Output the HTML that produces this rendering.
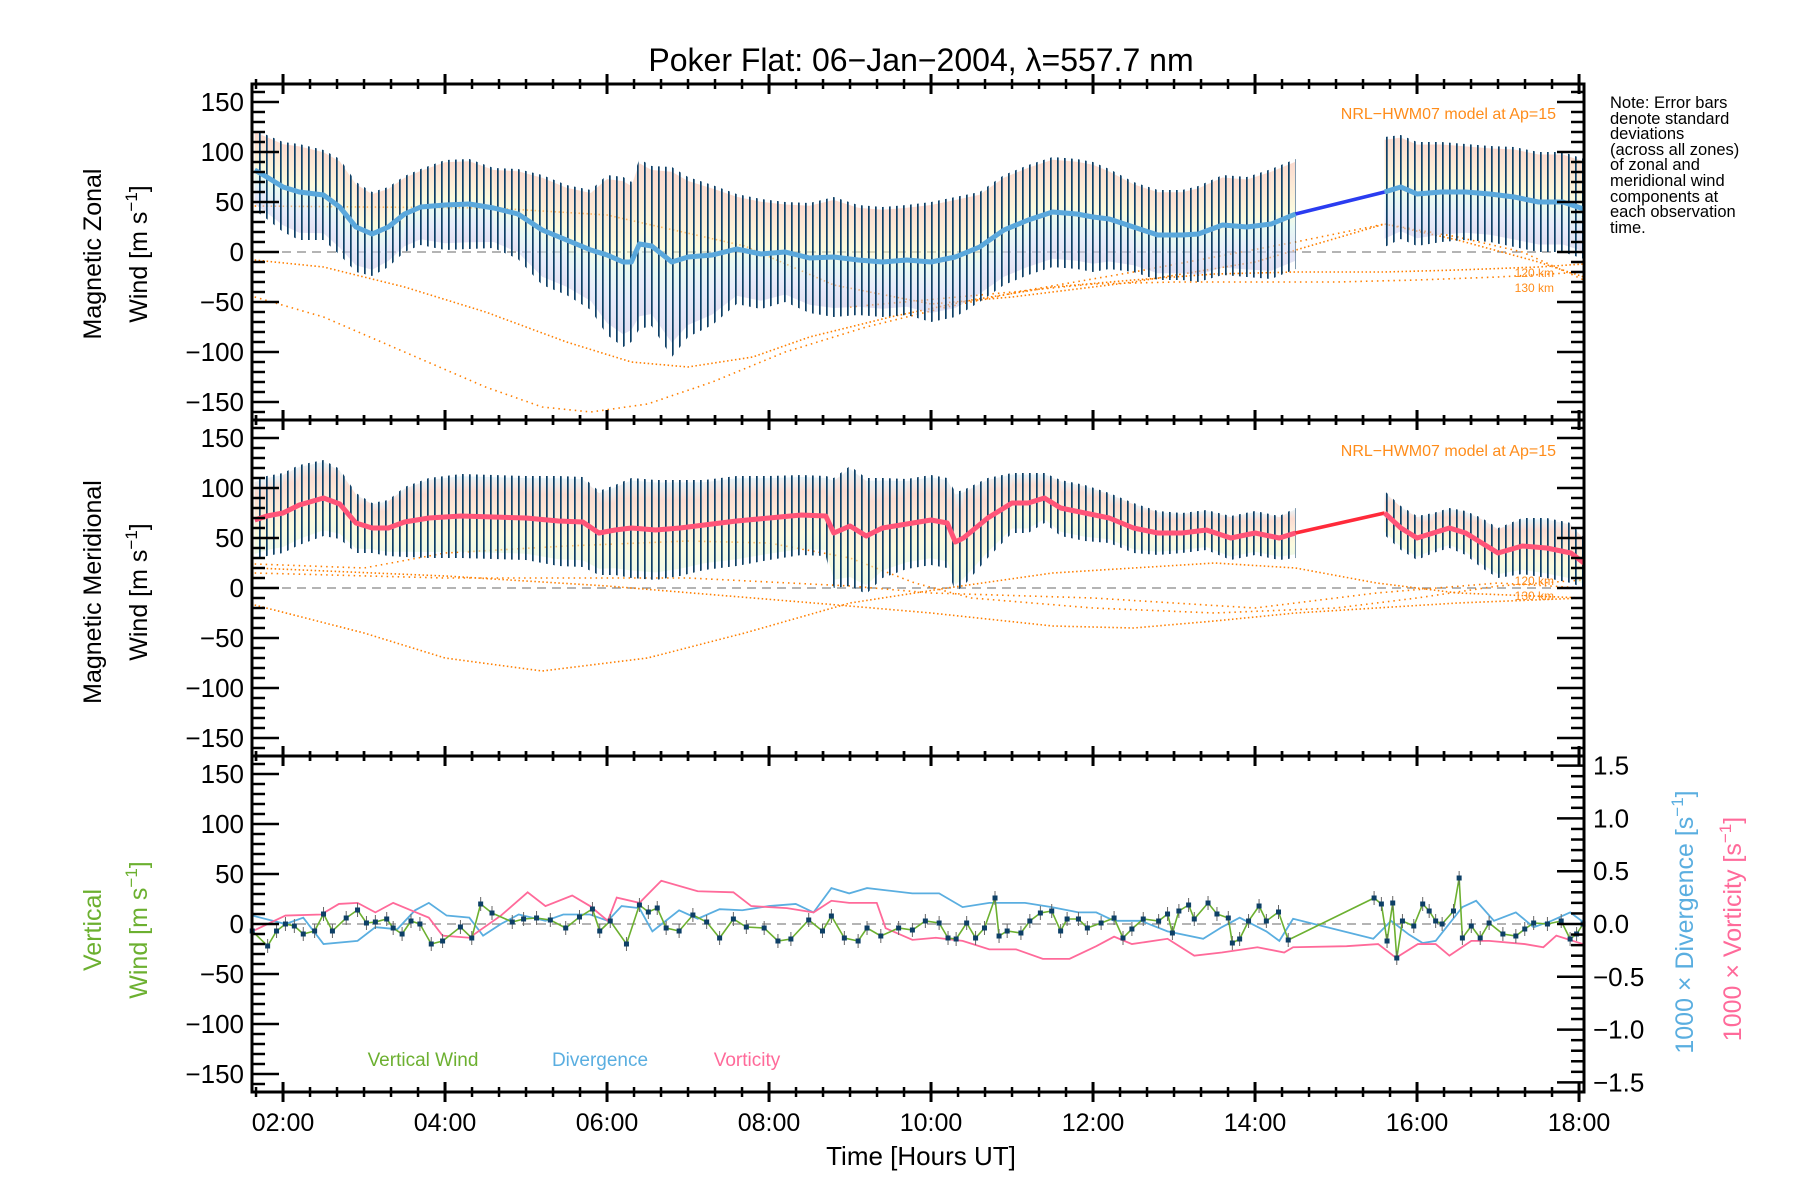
<!DOCTYPE html>
<html><head><meta charset="utf-8"><style>
html,body{margin:0;padding:0;background:#fff}
svg{display:block;font-family:"Liberation Sans",sans-serif}
</style></head><body>
<svg id="chart" width="1800" height="1200" viewBox="0 0 1800 1200" xmlns="http://www.w3.org/2000/svg">
<defs>
<pattern id="bars" width="7" height="10" patternUnits="userSpaceOnUse"><rect x="0" y="0" width="1.7" height="10" fill="#0d3f66"/></pattern>
<linearGradient id="distZ" x1="0" y1="0" x2="0" y2="1">
<stop offset="0" stop-color="#f8bca8"/><stop offset="0.28" stop-color="#f9e0b8"/><stop offset="0.45" stop-color="#f7f6c4"/><stop offset="0.6" stop-color="#d4f3ea"/><stop offset="0.78" stop-color="#d2dbf6"/><stop offset="1" stop-color="#c8c4e6"/>
</linearGradient>
<linearGradient id="distM" x1="0" y1="0" x2="0" y2="1">
<stop offset="0" stop-color="#d4ecf6"/><stop offset="0.2" stop-color="#f8c0ac"/><stop offset="0.5" stop-color="#f9dfba"/><stop offset="0.75" stop-color="#f7f6c4"/><stop offset="1" stop-color="#e0f4d6"/>
</linearGradient>
</defs>
<text x="921" y="71" font-size="32" text-anchor="middle">Poker Flat: 06−Jan−2004, λ=557.7 nm</text>
<g id="g1"></g>
<g id="g2"></g>
<g id="g3"></g>
<g id="axes"></g>
<g font-size="16.5" fill="#000">
<text x="1610" y="108">Note: Error bars</text><text x="1610" y="124">denote standard</text><text x="1610" y="139">deviations</text><text x="1610" y="155">(across all zones)</text><text x="1610" y="170">of zonal and</text><text x="1610" y="186">meridional wind</text><text x="1610" y="202">components at</text><text x="1610" y="217">each observation</text><text x="1610" y="233">time.</text>
</g>
<text transform="translate(101,254) rotate(-90)" font-size="25" text-anchor="middle">Magnetic  Zonal</text>
<text transform="translate(147,254) rotate(-90)" font-size="25" text-anchor="middle">Wind [m s<tspan dy="-10" font-size="17">−1</tspan><tspan dy="10">]</tspan></text>
<text transform="translate(101,592) rotate(-90)" font-size="25" text-anchor="middle">Magnetic  Meridional</text>
<text transform="translate(147,592) rotate(-90)" font-size="25" text-anchor="middle">Wind [m s<tspan dy="-10" font-size="17">−1</tspan><tspan dy="10">]</tspan></text>
<text transform="translate(101,930) rotate(-90)" font-size="25" text-anchor="middle" fill="#6cb030">Vertical</text>
<text transform="translate(147,930) rotate(-90)" font-size="25" text-anchor="middle" fill="#6cb030">Wind [m s<tspan dy="-10" font-size="17">−1</tspan><tspan dy="10">]</tspan></text>
<text transform="translate(1693,922) rotate(-90)" font-size="25" text-anchor="middle" fill="#5aaee0">1000 × Divergence [s<tspan dy="-10" font-size="17">−1</tspan><tspan dy="10">]</tspan></text>
<text transform="translate(1741,929) rotate(-90)" font-size="25" text-anchor="middle" fill="#ff6a9a">1000 × Vorticity [s<tspan dy="-10" font-size="17">−1</tspan><tspan dy="10">]</tspan></text>
<text x="921" y="1165" font-size="26" text-anchor="middle">Time [Hours UT]</text>
<text x="423" y="1066" font-size="19" text-anchor="middle" fill="#6cb030">Vertical Wind</text>
<text x="600" y="1066" font-size="19" text-anchor="middle" fill="#5aaee0">Divergence</text>
<text x="747" y="1066" font-size="19" text-anchor="middle" fill="#ff6a9a">Vorticity</text>
<text x="1556" y="119" font-size="16" text-anchor="end" fill="#ff8c1a">NRL−HWM07 model at Ap=15</text>
<text x="1556" y="456" font-size="16" text-anchor="end" fill="#ff8c1a">NRL−HWM07 model at Ap=15</text>
<text x="1554" y="277" font-size="12" text-anchor="end" fill="#ff8c1a">120 km</text>
<text x="1554" y="292" font-size="12" text-anchor="end" fill="#ff8c1a">130 km</text>
<text x="1554" y="585" font-size="12" text-anchor="end" fill="#ff8c1a">120 km</text>
<text x="1554" y="600" font-size="12" text-anchor="end" fill="#ff8c1a">130 km</text>
</svg>
<script>
// ---- data ----
const zonT=[1.65,1.8,2.0,2.2,2.5,2.7,2.9,3.1,3.3,3.5,3.7,4.0,4.3,4.6,4.9,5.2,5.5,5.8,6.0,6.2,6.3,6.4,6.55,6.8,7.0,7.3,7.6,7.9,8.2,8.5,8.8,9.1,9.4,9.7,10.0,10.3,10.6,10.9,11.2,11.5,11.8,12.0,12.2,12.5,12.8,13.1,13.3,13.6,13.9,14.2,14.5,15.6,15.8,16.0,16.3,16.6,16.9,17.2,17.5,17.8,18.06];
const zonMean=[82,75,65,60,57,45,25,18,25,38,45,47,48,44,38,22,12,2,-3,-10,-10,8,6,-10,-5,-3,3,-2,0,-6,-5,-8,-10,-8,-10,-5,5,22,32,40,38,35,33,25,17,17,18,27,25,28,38,60,65,58,60,60,58,55,50,50,43];
const zonSd=[40,42,45,48,45,48,45,42,40,38,38,45,45,40,45,55,55,60,80,85,80,85,80,95,80,70,55,55,50,55,60,55,55,55,60,60,55,55,55,55,55,55,50,45,45,45,48,50,50,55,55,55,52,52,50,48,48,50,50,50,50];
const merT=[1.65,1.8,2.0,2.2,2.5,2.7,2.9,3.1,3.3,3.5,3.8,4.2,4.6,5.0,5.4,5.7,5.9,6.1,6.3,6.6,6.9,7.2,7.6,8.0,8.4,8.7,8.8,9.0,9.2,9.4,9.7,10.0,10.2,10.3,10.4,10.7,11.0,11.2,11.4,11.6,11.9,12.2,12.5,12.8,13.1,13.4,13.7,14.0,14.3,14.5,15.6,15.8,16.0,16.2,16.4,16.6,16.8,17.0,17.3,17.6,17.9,18.06];
const merMean=[68,72,75,83,90,84,65,60,60,66,70,72,71,70,67,66,55,58,60,58,60,63,67,70,73,72,55,62,52,60,64,68,65,46,50,70,85,85,90,80,75,70,60,55,55,58,50,55,50,55,75,60,50,55,60,55,45,35,42,40,35,25];
const merSd=[40,40,40,40,38,35,30,25,28,35,40,42,42,42,45,45,42,45,50,50,48,45,45,42,40,40,55,60,58,50,45,45,45,50,48,40,30,30,25,28,28,25,25,22,20,20,22,22,22,25,22,22,22,20,20,22,25,25,28,30,30,25];
// model curves (HWM07)
const zm1T=[1.65,2.5,3.5,4.5,5.5,6.3,7.0,7.8,8.5,9.5,10.5,11.5,12.5,13.5,14.5,15.6,16.5,17.5,18.06];
const zm1V=[-8,-15,-35,-60,-90,-110,-115,-105,-85,-65,-48,-35,-28,-22,-20,-20,-18,-15,-12];
const zm2T=[1.65,2.5,3.5,4.5,5.2,5.8,6.5,7.3,8.2,9.2,10.2,11.2,12.5,13.5,14.5,15.6,16.5,17.3,18.06];
const zm2V=[-45,-65,-100,-135,-155,-160,-152,-130,-100,-75,-55,-38,-20,-5,10,28,15,0,-28];
const zm3T=[1.65,3.0,4.6,6.0,7.7,8.8,10.0,11.0,12.5,14.0,15.6,16.5,17.5,18.06];
const zm3V=[46,45,44,37,6,-33,-52,-45,-30,-10,28,12,-10,-25];
const zm4T=[9.0,11.0,12.0,13.0,14.0,15.0,16.0,17.0,18.06];
const zm4V=[-55,-40,-32,-30,-30,-30,-28,-25,-20];
const mm1T=[1.65,3.0,4.0,5.2,6.5,7.7,9.0,10.2,11.5,12.5,13.5,14.5,15.5,16.5,18.06];
const mm1V=[-17,-45,-70,-83,-70,-45,-15,0,15,20,25,20,5,-5,-10];
const mm2T=[1.65,3.0,4.0,5.5,7.0,8.0,9.0,9.8,10.5,12.0,13.5,15.0,16.0,17.0,18.06];
const mm2V=[24,20,35,42,47,45,30,5,-10,-20,-25,-20,-10,2,8];
const mm3T=[1.65,4.0,6.0,8.7,10.0,11.5,12.5,13.5,14.5,15.5,16.5,18.06];
const mm3V=[20,12,2,-16,-25,-38,-40,-33,-25,-20,-15,-10];
const mm4T=[1.65,4.0,7.0,9.0,10.0,12.0,14.0,15.5,17.0,18.06];
const mm4V=[15,10,10,2,-5,-10,-20,-5,5,0];
// panel 3
const vwT=[1.62,1.81,1.92,2.03,2.14,2.25,2.39,2.50,2.61,2.78,2.92,3.03,3.14,3.28,3.36,3.47,3.58,3.69,3.83,3.97,4.19,4.33,4.44,4.58,4.83,4.97,5.13,5.30,5.49,5.66,5.82,5.91,6.04,6.24,6.40,6.51,6.62,6.73,6.89,7.06,7.23,7.39,7.56,7.72,7.94,8.11,8.27,8.49,8.66,8.77,8.93,9.10,9.21,9.38,9.60,9.77,9.93,10.10,10.21,10.31,10.44,10.55,10.66,10.79,10.84,10.94,11.11,11.22,11.35,11.49,11.60,11.68,11.82,11.93,12.10,12.26,12.37,12.48,12.62,12.81,12.92,12.98,13.06,13.18,13.25,13.42,13.53,13.67,13.72,13.81,13.92,14.05,14.14,14.29,14.41,15.47,15.56,15.63,15.70,15.75,15.82,15.96,16.07,16.15,16.23,16.31,16.45,16.52,16.56,16.67,16.78,16.89,17.06,17.22,17.33,17.44,17.61,17.78,17.89,17.97,18.05];
const vwV=[-7,-22,-7,0,-2,-10,-7,10,-7,6,14,1,2,5,-4,-10,3,0,-20,-17,-3,-14,20,11,2,5,6,4,-4,7,15,-7,3,-20,19,12,16,-4,-7,9,2,-14,5,-3,-4,-17,-15,4,-7,8,-14,-17,-4,-12,-4,-6,3,1,-14,-15,1,-14,-4,26,-12,-7,-9,3,11,13,-7,5,5,-4,1,6,-14,-5,5,3,10,-9,13,19,5,21,10,6,-19,-15,3,18,3,12,-16,26,20,-17,21,-34,3,-2,20,13,3,0,13,46,-14,-2,-14,1,-10,-12,-5,1,0,3,-15,-10,0];
const divT=[1.62,2.03,2.25,2.50,2.92,3.14,3.41,3.63,3.80,4.02,4.30,4.47,4.69,4.91,5.24,5.46,5.79,6.01,6.18,6.40,6.56,6.89,7.12,7.39,7.67,8.00,8.33,8.55,8.77,8.99,9.21,9.44,9.77,10.10,10.39,10.72,11.16,11.49,11.82,12.04,12.26,12.59,12.92,13.36,13.59,13.81,14.14,14.30,14.47,15.46,15.68,15.90,16.07,16.23,16.56,16.73,16.95,17.22,17.44,17.66,17.89,18.05];
const divV=[0.08,0,0.06,-0.19,-0.16,-0.03,-0.05,0.13,0.20,0.08,0.06,-0.11,0,0.09,0.03,0.09,0.09,0.03,0.17,0.15,-0.07,0.13,0.05,0.14,0.13,0.17,0.19,0.11,0.34,0.29,0.34,0.32,0.29,0.29,0.16,0.20,0.20,0.16,0.11,0.11,0.03,0.03,-0.07,-0.14,-0.03,0.06,-0.07,-0.16,0.05,-0.14,0.03,-0.10,-0.18,-0.16,0.16,0.22,0.03,0.11,-0.03,0.03,0.11,0.02];
const vorT=[1.62,2.03,2.47,2.69,2.92,3.14,3.36,3.58,3.80,3.97,4.30,4.69,5.02,5.24,5.57,5.79,6.01,6.12,6.40,6.67,7.12,7.56,7.78,8.22,8.55,8.77,8.99,9.33,9.44,9.77,10.06,10.39,10.72,11.05,11.38,11.71,12.04,12.26,12.48,12.92,13.25,13.59,14.03,14.36,14.47,15.13,15.52,15.74,16.01,16.23,16.40,16.67,16.89,17.33,17.56,17.72,18.05];
const vorV=[-0.07,0.08,0.09,0.19,0.20,0.11,0.20,0.13,0.06,-0.11,-0.13,0.08,0.30,0.17,0.27,0.17,0.03,0.25,0.20,0.41,0.31,0.30,0.17,0.15,0.11,0.22,0.20,0.20,-0.04,-0.15,-0.13,-0.16,-0.24,-0.24,-0.33,-0.33,-0.21,-0.12,-0.19,-0.14,-0.30,-0.27,-0.22,-0.27,-0.22,-0.21,-0.19,-0.32,-0.19,-0.19,-0.30,-0.16,-0.16,-0.19,-0.22,-0.11,-0.19];
const yTicks=[-150,-100,-50,0,50,100,150];
const rTicks=[-1.5,-1.0,-0.5,0.0,0.5,1.0,1.5];
const xTickHours=[2,4,6,8,10,12,14,16,18];

// ---- scales ----
const L=252,R=1584,T0=1.617,PXH=81;
const tops=[84,420,756],H=336;
const X=t=>L+(t-T0)*PXH;
const Y=(p,v)=>tops[p]+H/2-v*(H/336);
const YR=v=>tops[2]+H/2-v*105.6;
const NS="http://www.w3.org/2000/svg";
function mk(parent,tag,attrs){const e=document.createElementNS(NS,tag);for(const k in attrs)e.setAttribute(k,attrs[k]);parent.appendChild(e);return e;}
function segs(T){const out=[];let cur=[0];for(let i=1;i<T.length;i++){if(T[i]-T[i-1]>0.6){out.push(cur);cur=[i];}else cur.push(i);}out.push(cur);return out;}

function windPanel(p,g,T,M,S,grad,lineCol,gapCol,models){
  const z=mk(g,'line',{x1:L,x2:R,y1:Y(p,0),y2:Y(p,0),stroke:'#888',"stroke-width":1.3,"stroke-dasharray":"9 6"});
  
  
  models.forEach((m,mi)=>{
    const pts=m[0].map((t,i)=>X(t)+','+Y(p,m[1][i])).join(' ');
    const pl=mk(g,'polyline',{points:pts,fill:'none',stroke:'#ff7f00',"stroke-width":1.6,"stroke-dasharray":mi%2?"1.5 4":"1.5 2.5"});
    
    
  });
  segs(T).forEach(idx=>{
    for(let k=0;k<idx.length-1;k++){
      const i=idx[k],j=idx[k+1];
      const pts=[X(T[i])+','+Y(p,M[i]+S[i]*0.95),X(T[j])+','+Y(p,M[j]+S[j]*0.95),X(T[j])+','+Y(p,M[j]-S[j]*0.85),X(T[i])+','+Y(p,M[i]-S[i]*0.85)].join(' ');
      const b=mk(g,'polygon',{points:pts,fill:'url(#'+grad+')',opacity:0.55});
      
      
    }
    const up=idx.map(i=>X(T[i])+','+Y(p,M[i]+S[i]));
    const dn=idx.slice().reverse().map(i=>X(T[i])+','+Y(p,M[i]-S[i]));
    const e=mk(g,'polygon',{points:up.concat(dn).join(' '),fill:'url(#bars)'});
    
    
  });
  const sg=segs(T);
  const gi=sg[0][sg[0].length-1],gj=sg[1][0];
  const gl=mk(g,'line',{x1:X(T[gi]),y1:Y(p,M[gi]),x2:X(T[gj]),y2:Y(p,M[gj]),stroke:gapCol,"stroke-width":3.5});
  
  
  sg.forEach(idx=>{
    const ml=mk(g,'polyline',{points:idx.map(i=>X(T[i])+','+Y(p,M[i])).join(' '),fill:'none',stroke:lineCol,"stroke-width":5,"stroke-linejoin":"round"});
    
    
  });
}
windPanel(0,document.getElementById('g1'),zonT,zonMean,zonSd,'distZ','#5aa8dc','#2a3cf0',[[zm1T,zm1V],[zm2T,zm2V],[zm3T,zm3V],[zm4T,zm4V]]);
windPanel(1,document.getElementById('g2'),merT,merMean,merSd,'distM','#ff5478','#ff2a3a',[[mm1T,mm1V],[mm2T,mm2V],[mm3T,mm3V],[mm4T,mm4V]]);

const g3=document.getElementById('g3');
const z3=mk(g3,'line',{x1:L,x2:R,y1:Y(2,0),y2:Y(2,0),stroke:'#888',"stroke-width":1.3,"stroke-dasharray":"9 6"});


const dl=mk(g3,'polyline',{points:divT.map((t,i)=>X(t)+','+YR(divV[i])).join(' '),fill:'none',stroke:'#5aaee0',"stroke-width":1.8});


const vl=mk(g3,'polyline',{points:vorT.map((t,i)=>X(t)+','+YR(vorV[i])).join(' '),fill:'none',stroke:'#ff6a9a',"stroke-width":1.8});


const wl=mk(g3,'polyline',{points:vwT.map((t,i)=>X(t)+','+Y(2,vwV[i])).join(' '),fill:'none',stroke:'#6cb030',"stroke-width":1.6});


vwT.forEach((t,i)=>{
  const eb=mk(g3,'line',{x1:X(t),x2:X(t),y1:Y(2,vwV[i])-7,y2:Y(2,vwV[i])+7,stroke:'#666',"stroke-width":1});
  
  
  const pt=mk(g3,'rect',{x:X(t)-2.5,y:Y(2,vwV[i])-2.5,width:5,height:5,fill:'#0d3f66'});
  
  
});

const ax=document.getElementById('axes');
tops.forEach((tp,p)=>{
  const fr=mk(ax,'rect',{x:L,y:tp,width:R-L,height:H,fill:'none',stroke:'#000',"stroke-width":3});
  
  
  for(let v=-160;v<=160;v+=10){
    const maj=v%50===0,len=maj?27:13,y=Y(p,v);
    mk(ax,'line',{x1:L,x2:L+len,y1:y,y2:y,stroke:'#000',"stroke-width":2.5});
    if(p<2) mk(ax,'line',{x1:R,x2:R-len,y1:y,y2:y,stroke:'#000',"stroke-width":2.5});
  }
  yTicks.forEach(v=>{
    const t=mk(ax,'text',{x:244,y:Y(p,v)+9,"font-size":26,"text-anchor":"end"});
    t.textContent=(v<0?'−':'')+Math.abs(v);
    
    
  });
  [tp,tp+H].forEach(yy=>{
    for(let m=100;m<=1090;m+=20){const t=m/60;if(t<T0||t>18.06)continue;const x=X(t),maj=m%120===0,len=maj?10:5;
      mk(ax,'line',{x1:x,x2:x,y1:yy-len,y2:yy+len,stroke:'#000',"stroke-width":maj?3:2.5});}
  });
});
for(let v=-1.5;v<=1.501;v+=0.1){
  const maj=Math.abs(Math.round(v*10)%5)===0,len=maj?27:13,y=YR(v);
  mk(ax,'line',{x1:R,x2:R-len,y1:y,y2:y,stroke:'#000',"stroke-width":2.5});
}
rTicks.forEach(v=>{
  const t=mk(ax,'text',{x:1593,y:YR(v)+9,"font-size":26});
  t.textContent=(v<0?'−':'')+Math.abs(v).toFixed(1);
  
  
});
xTickHours.forEach(h=>{
  const t=mk(ax,'text',{x:X(h),y:1131,"font-size":25,"text-anchor":"middle"});
  t.textContent=(h<10?'0':'')+h+':00';
  
  
});
</script>
</body></html>
